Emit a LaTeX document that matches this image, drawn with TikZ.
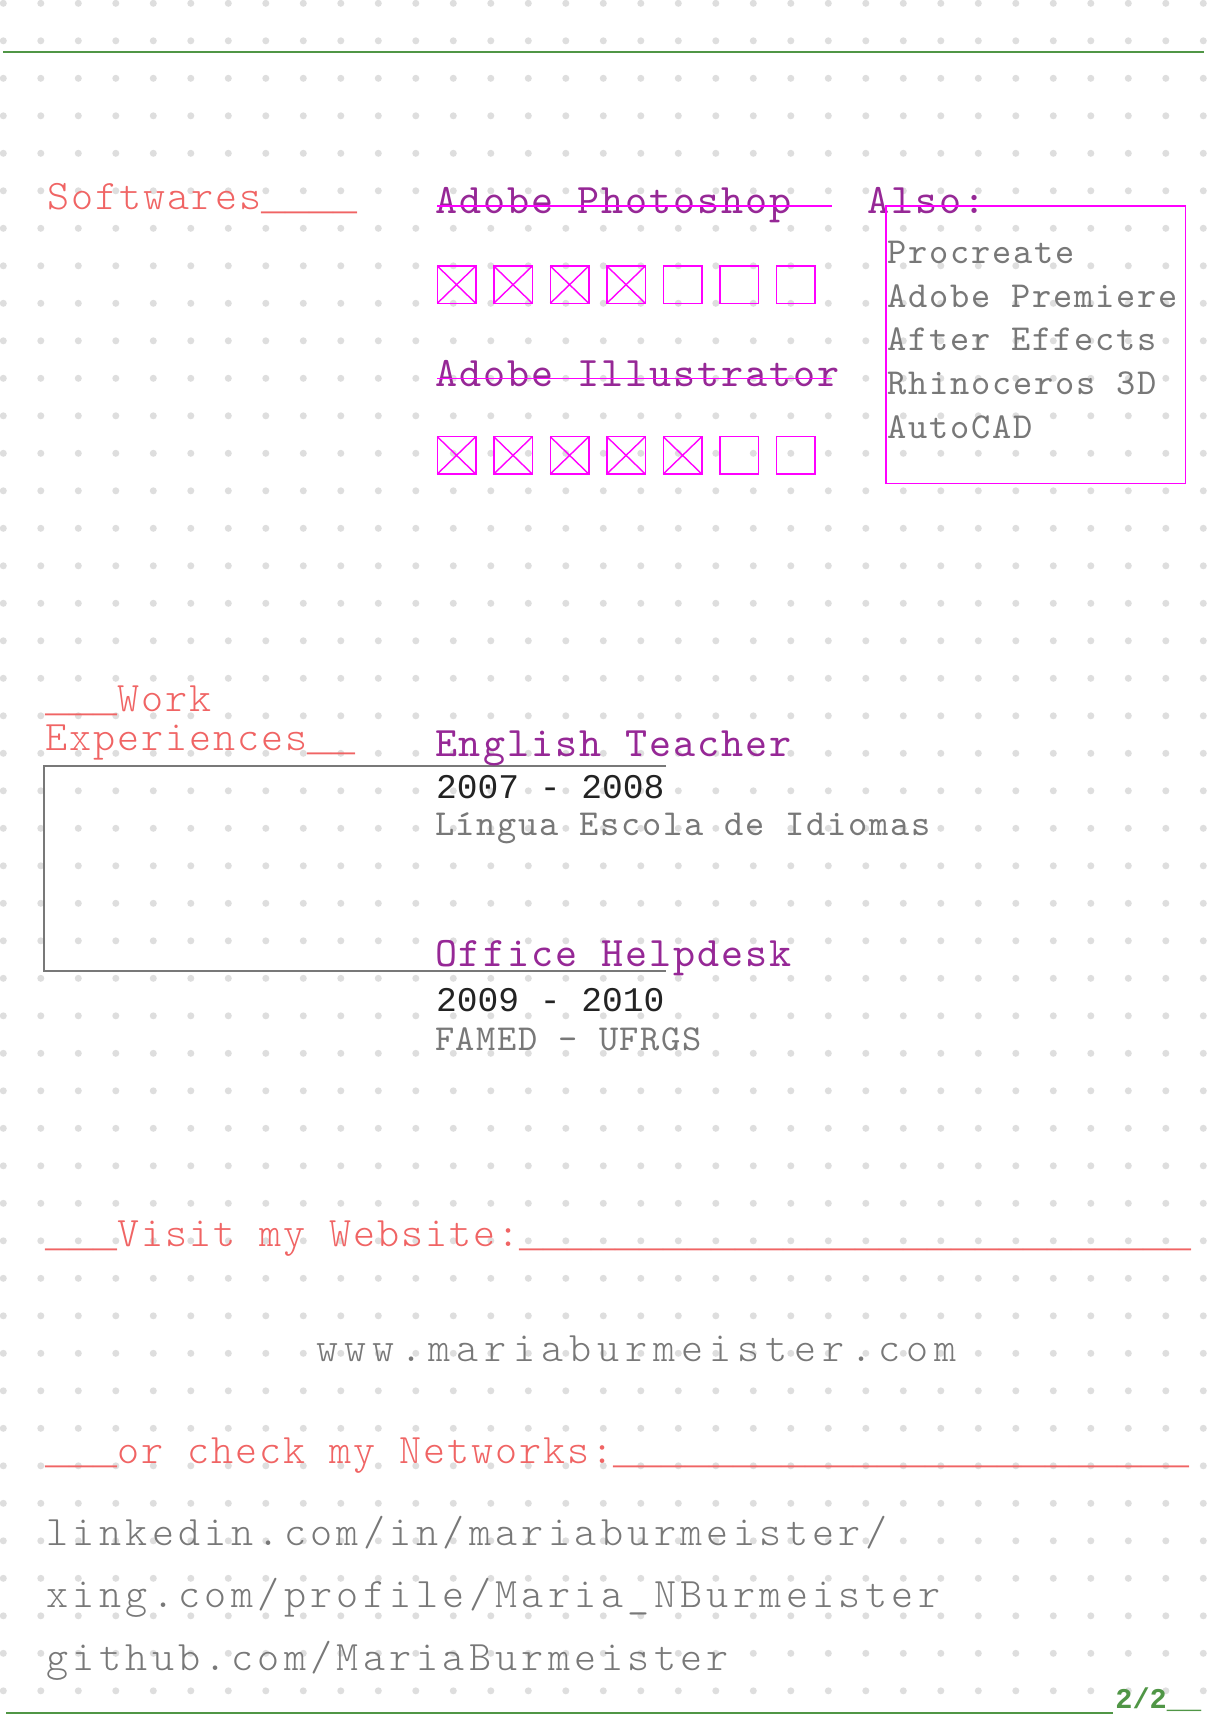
\documentclass[tikz,border=0pt]{standalone}
\usepackage{fontspec}
\newfontfamily\cvfont{lmmonolt10-regular.otf}[LetterSpace=4.7]
\newfontfamily\cvboldfont{lmmono10-regular.otf}[LetterSpace=4.7]
\newfontfamily\cvlinkfont{lmmonolt10-regular.otf}[LetterSpace=10.4]
\newfontfamily\cvwebfont{lmmonolt10-regular.otf}[LetterSpace=14.4]
\newfontfamily\cvdatefont{Liberation Mono}
\newcommand\cvbar[1]{{\cvdatefont\fontsize{20pt}{20pt}\selectfont#1}}

\definecolor{cvred}{RGB}{240,100,100}
\definecolor{cvpurple}{RGB}{150,40,150}
\definecolor{cvmagenta}{RGB}{255,0,255}
\definecolor{cvgray}{RGB}{120,120,120}
\definecolor{cvdark}{RGB}{35,35,35}
\definecolor{cvdot}{RGB}{222,222,222}
\definecolor{cvgreen}{RGB}{80,150,70}

\begin{document}
\begin{tikzpicture}[x=0.5pt, y=-0.5pt,
    every node/.style={inner sep=0pt, anchor=base west},
    heading/.style={font=\cvfont\fontsize{21pt}{21pt}\selectfont, text=cvred},
    title/.style={font=\cvboldfont\fontsize{21pt}{21pt}\selectfont, text=cvpurple},
    small/.style={font=\cvboldfont\fontsize{18.3pt}{18.3pt}\selectfont, text=cvgray},
    date/.style={font=\cvdatefont\fontsize{17.3pt}{17.3pt}\selectfont, text=cvdark},
    link/.style={font=\cvlinkfont\fontsize{21pt}{21pt}\selectfont, text=cvgray},
    checkbox/.style={draw=cvmagenta, line width=0.7pt}]
    \useasboundingbox (0,0) rectangle (1208,1720);
    \fill[white] (0,0) rectangle (1208,1720);

    % dotted paper
    \foreach \i in {0,...,32} {
        \foreach \j in {0,...,45} {
            \fill[cvdot] (3.3+\i*37.5, 3.3+\j*37.5) circle (1.75pt);
        }
    }
    \draw[cvgreen, line width=1pt] (3,51.7) -- (1204,51.7);

    % Softwares
    \node[heading] (soft) at (46.7,209) {Softwares\cvbar{\_\_\_\_}};
    \node[title] (ps) at (435,213.3) {Adobe Photoshop};
    \node[title] (ai) at (435,386.7) {Adobe Illustrator};
    \draw[cvmagenta, line width=0.8pt] (437,205.7) -- (832,205.7);
    \draw[cvmagenta, line width=0.8pt] (437,378.3) -- (832,378.3);
    \foreach \x in {0,...,6} {
        \draw[checkbox] (437.3+\x*56.5, 266) rectangle ++(38.5,37.3);
        \draw[checkbox] (437.3+\x*56.5, 436.7) rectangle ++(38.5,37.3);
    }
    \foreach \x in {0,...,3} {
        \draw[checkbox] (437.3+\x*56.5, 266) -- ++(38.5,37.3) ++(0,-37.3) -- ++(-38.5,37.3);
    }
    \foreach \x in {0,...,4} {
        \draw[checkbox] (437.3+\x*56.5, 436.7) -- ++(38.5,37.3) ++(0,-37.3) -- ++(-38.5,37.3);
    }

    % Also
    \node[title] (also) at (866.7,213) {Also:};
    \draw[cvmagenta, line width=0.8pt] (886,206) rectangle (1185.3,483.3);
    \foreach \t [count=\k from 0] in {Procreate, Adobe Premiere, After Effects, Rhinoceros 3D, AutoCAD} {
        \node[small] (also\k) at (887.3, 263.3+\k*43.7) {\t};
    }

    % Work experiences
    \node[heading] (work) at (45,711.7) {\cvbar{\_\_\_}Work};
    \node[heading] (exp) at (45,750) {Experiences\cvbar{\_\_}};
    \draw[cvgray, line width=0.9pt] (666,766) -- (44.3,766) -- (44.3,970.7) -- (666,970.7);
    \node[title] (job1) at (434.6,756.7) {English Teacher};
    \node[date] (year1) at (435.7,798.3) {2007 - 2008};
    \node[small] (place1) at (434.6,835) {Língua Escola de Idiomas};
    \node[title] (job2) at (434.6,966.7) {Office Helpdesk};
    \node[date] (year2) at (435.7,1011.7) {2009 - 2010};
    \node[small] (place2) at (434.6,1050.7) {FAMED - UFRGS};

    % Website and networks
    \node[heading] (visit) at (44.7,1246.7) {\cvbar{\_\_\_}Visit my Website:\cvbar{\_\_\_\_\_\_\_\_\_\_\_\_\_\_\_\_\_\_\_\_\_\_\_\_\_\_\_\_}};
    \node[link, font=\cvwebfont\fontsize{21pt}{21pt}\selectfont] (web) at (316,1361.7) {www.mariaburmeister.com};
    \node[heading] (net) at (44.7,1463.3) {\cvbar{\_\_\_}or check my Networks:\cvbar{\_\_\_\_\_\_\_\_\_\_\_\_\_\_\_\_\_\_\_\_\_\_\_\_}};
    \foreach \t [count=\k from 0] in {linkedin.com/in/mariaburmeister/, xing.com/profile/Maria\_NBurmeister, github.com/MariaBurmeister} {
        \node[link] (net\k) at (46, 1545+\k*62.5) {\t};
    }

    % footer
    \draw[cvgreen, line width=1pt] (6,1712.7) -- (1113,1712.7);
    \node[font=\cvdatefont\bfseries\fontsize{14.3pt}{14.3pt}\selectfont, text=cvgreen] (page) at (1115,1708.5) {2/2\_\_};
\end{tikzpicture}
\end{document}
